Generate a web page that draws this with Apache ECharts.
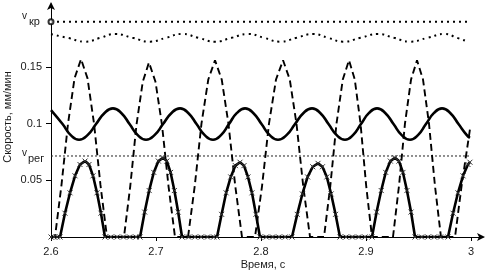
<!DOCTYPE html>
<html><head><meta charset="utf-8">
<script src="https://cdn.jsdelivr.net/npm/echarts@6/dist/echarts.min.js"></script>
<style>html,body{margin:0;padding:0;background:#fff}#c{width:488px;height:276px}</style>
</head><body><div id="c"></div>
<script>
// ---- data ----
const xTicks = [2.6, 2.7, 2.8, 2.9, 3.0];
const yTicks = [0.05, 0.1, 0.15];
const tStart = 2.6, tEnd = 2.999;
const vKr = 0.19;     // v_кр
const vReg = 0.0715;  // v_рег

const solidLine = [
[2.6000,0.1120],[2.6110,0.0997],[2.6188,0.0899],[2.6267,0.0858],[2.6348,0.0899],[2.6429,0.0997],[2.6510,0.1095],
[2.6590,0.1135],[2.6669,0.1095],[2.6748,0.0997],[2.6826,0.0899],[2.6905,0.0858],[2.6986,0.0899],[2.7067,0.0997],[2.7148,0.1095],
[2.7229,0.1135],[2.7307,0.1095],[2.7386,0.0997],[2.7464,0.0899],[2.7543,0.0858],[2.7619,0.0899],[2.7695,0.0997],[2.7771,0.1095],
[2.7848,0.1135],[2.7926,0.1095],[2.8005,0.0997],[2.8083,0.0899],[2.8162,0.0858],[2.8243,0.0899],[2.8324,0.0997],[2.8405,0.1095],
[2.8486,0.1135],[2.8564,0.1095],[2.8643,0.0997],[2.8721,0.0899],[2.8800,0.0858],[2.8876,0.0899],[2.8952,0.0997],[2.9029,0.1095],
[2.9105,0.1135],[2.9183,0.1095],[2.9262,0.0997],[2.9340,0.0899],[2.9419,0.0858],[2.9495,0.0899],[2.9571,0.0997],[2.9648,0.1095],
[2.9724,0.1135],[2.9802,0.1095],[2.9881,0.0997],[2.9960,0.0899],[2.9990,0.0875]
];

const dashedLine = [
[2.6,0],[2.6038,0],[2.6100,0.046],[2.6162,0.100],[2.6224,0.140],[2.6286,0.157],[2.6348,0.140],[2.6410,0.100],[2.6471,0.046],[2.6533,0],
[2.6695,0],[2.6755,0.045],[2.6814,0.099],[2.6874,0.137],[2.6933,0.154],[2.6995,0.137],[2.7057,0.099],[2.7119,0.045],[2.7181,0],
[2.7305,0],[2.7369,0.045],[2.7433,0.100],[2.7498,0.139],[2.7562,0.156],[2.7626,0.139],[2.7690,0.100],[2.7755,0.045],[2.7819,0],
[2.7943,0],[2.8010,0.045],[2.8076,0.100],[2.8143,0.139],[2.8210,0.156],[2.8274,0.139],[2.8338,0.100],[2.8402,0.045],[2.8467,0],
[2.8600,0],[2.8660,0.045],[2.8719,0.100],[2.8779,0.139],[2.8838,0.156],[2.8893,0.139],[2.8948,0.100],[2.9002,0.045],[2.9057,0],
[2.9257,0],[2.9314,0.045],[2.9371,0.100],[2.9429,0.139],[2.9486,0.156],[2.9543,0.139],[2.9600,0.100],[2.9657,0.045],[2.9714,0],
[2.9848,0],[2.9910,0.045],[2.9990,0.095]
];

const crossLine = [
[2.6,0],[2.603,0],[2.606,0],
[2.6086,0],[2.6133,0.021],[2.6181,0.039],[2.6229,0.054],[2.6276,0.064],[2.6324,0.067],[2.6362,0.064],[2.6400,0.054],[2.6438,0.039],[2.6476,0.021],[2.6514,0],
[2.657,0],[2.663,0],[2.669,0],[2.675,0],[2.681,0],
[2.6848,0],[2.6892,0.022],[2.6935,0.041],[2.6979,0.057],[2.7023,0.067],[2.7067,0.070],[2.7103,0.067],[2.7139,0.057],[2.7175,0.041],[2.7211,0.022],[2.7248,0],
[2.731,0],[2.737,0],[2.743,0],[2.749,0],[2.755,0],
[2.7581,0],[2.7625,0.020],[2.7668,0.039],[2.7712,0.053],[2.7756,0.063],[2.7800,0.066],[2.7838,0.063],[2.7876,0.053],[2.7914,0.039],[2.7952,0.020],[2.7990,0],
[2.805,0],[2.811,0],[2.817,0],[2.823,0],
[2.8295,0],[2.8345,0.020],[2.8394,0.038],[2.8444,0.053],[2.8493,0.062],[2.8543,0.065],[2.8585,0.062],[2.8627,0.053],[2.8668,0.038],[2.8710,0.020],[2.8752,0],
[2.881,0],[2.887,0],[2.893,0],[2.899,0],
[2.9057,0],[2.9101,0.022],[2.9145,0.041],[2.9188,0.057],[2.9232,0.067],[2.9276,0.070],[2.9314,0.067],[2.9352,0.057],[2.9390,0.041],[2.9429,0.022],[2.9467,0],
[2.953,0],[2.959,0],[2.965,0],[2.971,0],
[2.9781,0],[2.9829,0.021],[2.9876,0.039],[2.9924,0.054],[2.9971,0.064],[2.999,0.066]
];

const wavyDotted = [
[2.6000,0.1790],[2.6162,0.1757],[2.6324,0.1724],[2.6467,0.1757],[2.6610,0.1792],[2.6776,0.1758],[2.6943,0.1724],
[2.7095,0.1758],[2.7248,0.1792],[2.7405,0.1758],[2.7562,0.1724],[2.7719,0.1758],[2.7876,0.1792],[2.8029,0.1758],
[2.8181,0.1724],[2.8338,0.1758],[2.8495,0.1792],[2.8638,0.1758],[2.8781,0.1724],[2.8948,0.1758],[2.9114,0.1792],
[2.9267,0.1758],[2.9419,0.1724],[2.9586,0.1758],[2.9752,0.1792],[2.9867,0.1758],[2.9971,0.1724]
];

const labelFont = 'Liberation Sans';
const ink = '#1a1a1a';

const chart = echarts.init(document.getElementById('c'), null, {renderer:'canvas'});
const option = {
  animation: false,
  backgroundColor: '#fff',
  grid: {left: 51, top: 4, width: 432, height: 233, containLabel: false},
  xAxis: {
    type: 'value', min: 2.6, max: 3.01143,
    splitLine: {show: false},
    axisLine: {show: true, onZero: false, symbol: ['none','arrow'], symbolSize: [6, 8], symbolOffset: [0, 2], lineStyle: {color: '#000', width: 1}},
    axisTick: {show: true, length: 4, customValues: xTicks, lineStyle: {color: '#000'}},
    axisLabel: {customValues: xTicks, margin: 9, fontFamily: labelFont, fontSize: 11, color: ink,
      formatter: v => (Math.abs(v - 3) < 1e-9 ? '3' : v.toFixed(1))}
  },
  yAxis: {
    type: 'value', min: 0, max: 0.20565,
    splitLine: {show: false},
    axisLine: {show: true, onZero: false, symbol: ['none','arrow'], symbolSize: [6, 8], symbolOffset: [0, 2], lineStyle: {color: '#000', width: 1}},
    axisTick: {show: true, length: 5, customValues: yTicks, lineStyle: {color: '#000'}},
    axisLabel: {customValues: yTicks, margin: 9, fontFamily: labelFont, fontSize: 11, color: ink,
      formatter: v => String(Number(v.toFixed(2)))}
  },
  series: [
    {type: 'line', name: 'vkr', data: [[tStart, vKr],[tEnd, vKr]], symbol: 'none', silent: true,
     lineStyle: {color: '#000', width: 2, type: [2, 4], cap: 'butt'}},
    {type: 'line', name: 'vreg', data: [[tStart, vReg],[tEnd, vReg]], symbol: 'none', silent: true,
     lineStyle: {color: '#222', width: 1, type: [2, 2], cap: 'butt'}},
    {type: 'line', name: 'wavy', data: wavyDotted, symbol: 'none', smooth: 0.5, silent: true,
     lineStyle: {color: '#000', width: 2, type: [2, 4], cap: 'butt'}},
    {type: 'line', name: 'solid', data: solidLine, symbol: 'none', smooth: 0.5, silent: true,
     lineStyle: {color: '#000', width: 2.6}},
    {type: 'line', name: 'dashed', data: dashedLine, symbol: 'none', silent: true,
     lineStyle: {color: '#000', width: 1.9, type: [7, 4], cap: 'butt'}},
    {type: 'line', name: 'cross', data: crossLine, silent: true,
     symbol: 'path://M0,0L10,10M10,0L0,10', symbolSize: 5, showSymbol: true,
     itemStyle: {color: 'transparent', borderColor: '#333', borderWidth: 1},
     lineStyle: {color: '#000', width: 2.6}},
    {type: 'scatter', name: 'vkrMark', data: [[tStart, vKr]], symbol: 'emptyCircle', symbolSize: 5, silent: true,
     itemStyle: {color: '#000', borderColor: '#000', borderWidth: 1}, z: 5}
  ]
};
chart.setOption(option);

const yKr = chart.convertToPixel({gridIndex: 0}, [tStart, vKr])[1];
const yReg = chart.convertToPixel({gridIndex: 0}, [tStart, vReg])[1];
const txt = (x, y, s, size, align) => ({type: 'text', x: x, y: y, silent: true,
  style: {text: s, fontFamily: labelFont, fontSize: size, fill: ink, align: align || 'left', verticalAlign: 'middle'}});
chart.setOption({
  graphic: [
    txt(22, yKr - 5, 'v', 10),
    txt(29, yKr + 0, 'кр', 11),
    txt(22, yReg - 3, 'v', 10),
    txt(28, yReg + 3, 'рег', 11),
    {type: 'text', x: 8, y: 117, rotation: Math.PI / 2, silent: true,
     style: {text: 'Скорость, мм/мин', fontFamily: labelFont, fontSize: 11, fill: ink, align: 'center', verticalAlign: 'middle'}},
    txt(263, 265, 'Время, с', 11, 'center')
  ]
});
</script>
</body></html>
